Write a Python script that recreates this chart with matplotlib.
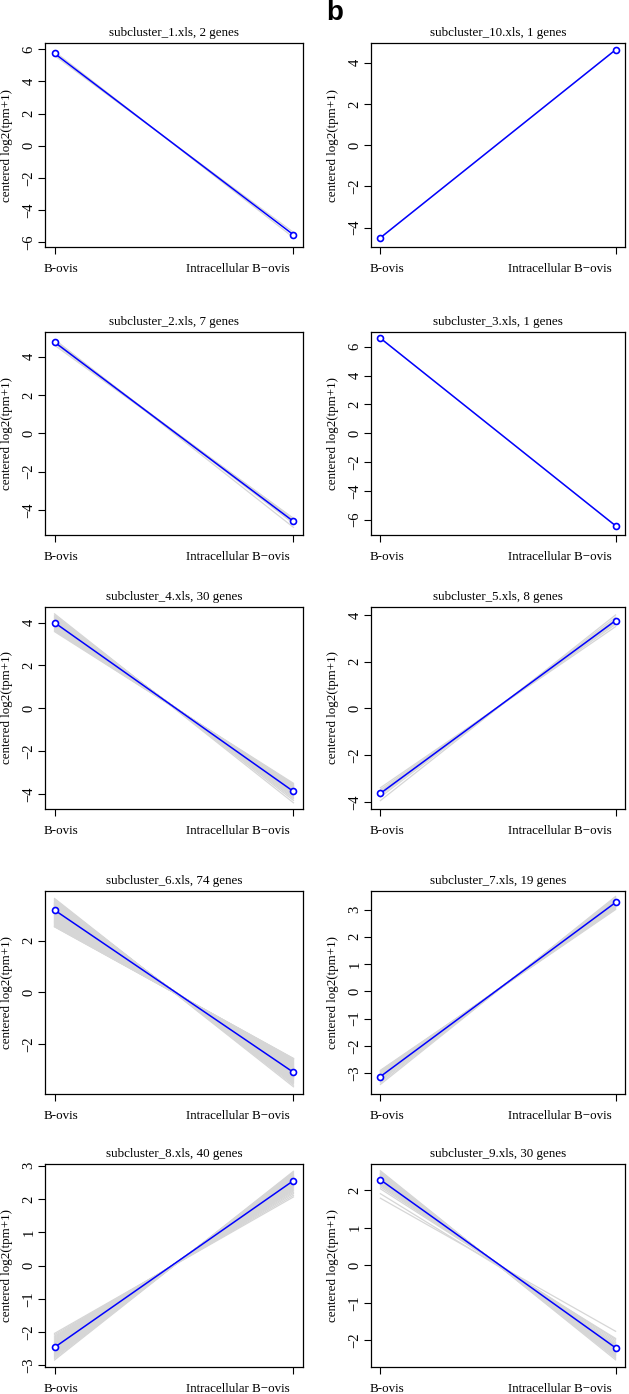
import matplotlib
matplotlib.use("Agg")
import matplotlib.pyplot as plt
from matplotlib.ticker import MultipleLocator
import matplotlib.transforms as mtransforms

plt.rcParams['font.family'] = ['Liberation Serif', 'DejaVu Serif']

conditions = ["B-ovis", "Intracellular B\u2212ovis"]

titles = ["subcluster_1.xls, 2 genes", "subcluster_10.xls, 1 genes",
          "subcluster_2.xls, 7 genes", "subcluster_3.xls, 1 genes",
          "subcluster_4.xls, 30 genes", "subcluster_5.xls, 8 genes",
          "subcluster_6.xls, 74 genes", "subcluster_7.xls, 19 genes",
          "subcluster_8.xls, 40 genes", "subcluster_9.xls, 30 genes"]

# centroid (blue) values at the two conditions
centroid_start = [5.73, -4.49, 4.76, 6.6, 4.0, -3.64, 3.19, -3.13, -2.46, 2.27]
centroid_end = [-5.53, 4.63, -4.59, -6.42, -3.88, 3.76, -3.1, 3.26, 2.55, -2.2]

# per gene values (grey lines)
genes_start = [
    [5.85, 5.6],
    [-4.49],
    [4.9, 4.85, 4.8, 4.75, 4.72, 4.7, 4.6],
    [6.6],
    [4.41, 4.35, 4.3, 4.26, 4.22, 4.18, 4.15, 4.12, 4.1, 4.08, 4.05, 4.03, 4.01, 3.99, 3.97,
     3.95, 3.93, 3.91, 3.89, 3.87, 3.85, 3.83, 3.81, 3.79, 3.76, 3.73, 3.7, 3.66, 3.62, 3.58],
    [-3.95, -3.8, -3.72, -3.66, -3.6, -3.55, -3.48, -3.4],
    [3.64, 3.6, 3.57, 3.55, 3.52, 3.5, 3.48, 3.46, 3.45, 3.43,
     3.42, 3.4, 3.39, 3.38, 3.36, 3.35, 3.34, 3.33, 3.32, 3.31,
     3.3, 3.29, 3.28, 3.27, 3.26, 3.25, 3.24, 3.23, 3.22, 3.21,
     3.2, 3.2, 3.19, 3.18, 3.17, 3.16, 3.15, 3.14, 3.13, 3.12,
     3.11, 3.1, 3.09, 3.08, 3.07, 3.06, 3.05, 3.04, 3.02, 3.0,
     2.98, 2.96, 2.94, 2.92, 2.9, 2.88, 2.86, 2.84, 2.82, 2.8,
     2.78, 2.76, 2.74, 2.72, 2.7, 2.68, 2.66, 2.64, 2.62, 2.6,
     2.58, 2.56, 2.55, 2.54],
    [-3.42, -3.36, -3.3, -3.26, -3.23, -3.2, -3.17, -3.15, -3.13, -3.11,
     -3.09, -3.07, -3.05, -3.03, -3.01, -2.98, -2.95, -2.92, -2.9],
    [-2.84, -2.8, -2.76, -2.73, -2.7, -2.68, -2.66, -2.64, -2.62, -2.6,
     -2.58, -2.57, -2.56, -2.55, -2.54, -2.53, -2.52, -2.51, -2.5, -2.49,
     -2.48, -2.47, -2.46, -2.45, -2.44, -2.42, -2.4, -2.38, -2.36, -2.34,
     -2.32, -2.3, -2.27, -2.24, -2.21, -2.18, -2.15, -2.12, -2.08, -2.04],
    [2.51, 2.48, 2.45, 2.43, 2.41, 2.4, 2.38, 2.37, 2.36, 2.35, 2.34, 2.33, 2.32, 2.31, 2.3,
     2.29, 2.28, 2.27, 2.26, 2.25, 2.24, 2.22, 2.2, 2.18, 2.15, 2.12, 2.08, 2.03, 1.9, 1.78],
]
genes_end = [
    [-5.7, -5.38],
    [4.63],
    [-4.9, -4.7, -4.6, -4.55, -4.5, -4.45, -4.43],
    [-6.42],
    [-4.41, -4.3, -4.22, -4.16, -4.1, -4.06, -4.02, -3.99, -3.96, -3.94, -3.92, -3.9, -3.88, -3.86, -3.84,
     -3.82, -3.8, -3.78, -3.76, -3.74, -3.72, -3.7, -3.68, -3.66, -3.64, -3.62, -3.6, -3.57, -3.54, -3.5],
    [4.0, 3.9, 3.82, 3.77, 3.72, 3.66, 3.6, 3.5],
    [-3.66, -3.6, -3.55, -3.51, -3.48, -3.45, -3.42, -3.4, -3.38, -3.36,
     -3.34, -3.32, -3.31, -3.3, -3.29, -3.28, -3.27, -3.26, -3.25, -3.24,
     -3.23, -3.22, -3.21, -3.2, -3.19, -3.18, -3.17, -3.16, -3.15, -3.14,
     -3.13, -3.12, -3.11, -3.1, -3.09, -3.08, -3.07, -3.06, -3.05, -3.04,
     -3.03, -3.02, -3.01, -3.0, -2.99, -2.98, -2.97, -2.96, -2.95, -2.94,
     -2.93, -2.92, -2.91, -2.9, -2.89, -2.88, -2.86, -2.84, -2.82, -2.8,
     -2.78, -2.76, -2.74, -2.72, -2.7, -2.68, -2.66, -2.64, -2.62, -2.6,
     -2.59, -2.58, -2.57, -2.56],
    [3.48, 3.44, 3.4, 3.37, 3.34, 3.32, 3.3, 3.28, 3.26, 3.24,
     3.22, 3.2, 3.18, 3.16, 3.13, 3.1, 3.07, 3.03, 3.0],
    [2.83, 2.8, 2.77, 2.74, 2.72, 2.7, 2.68, 2.67, 2.66, 2.65,
     2.64, 2.63, 2.62, 2.61, 2.6, 2.59, 2.58, 2.57, 2.56, 2.55,
     2.54, 2.53, 2.52, 2.51, 2.5, 2.48, 2.46, 2.44, 2.42, 2.4,
     2.38, 2.36, 2.33, 2.3, 2.27, 2.24, 2.2, 2.16, 2.11, 2.06],
    [-2.52, -2.48, -2.45, -2.42, -2.4, -2.38, -2.36, -2.34, -2.32, -2.3, -2.29, -2.28, -2.27, -2.26, -2.25,
     -2.24, -2.23, -2.22, -2.21, -2.2, -2.18, -2.16, -2.14, -2.12, -2.1, -2.06, -2.02, -1.98, -1.95, -1.76],
]

ylims = [(-6.29, 6.38), (-4.94, 4.96), (-5.30, 5.29), (-7.06, 7.03), (-4.70, 4.73),
         (-4.31, 4.34), (-3.94, 3.93), (-3.77, 3.68), (-3.05, 3.05), (-2.71, 2.69)]
ystep = [2, 2, 2, 2, 2, 2, 2, 1, 1, 1]

W, H = 629, 1394
fig = plt.figure(figsize=(W / 100, H / 100), dpi=100)

col_x = [(45, 303), (371, 625)]
row_y = [(43, 247), (332, 535), (607, 809), (891, 1094), (1164, 1367)]

fs = 9.4
for i in range(10):
    r, c = divmod(i, 2)
    x0, x1 = col_x[c]
    y0, y1 = row_y[r]
    ax = fig.add_axes([x0 / W, 1 - y1 / H, (x1 - x0) / W, (y1 - y0) / H])

    for s, e in zip(genes_start[i], genes_end[i]):
        ax.plot([1, 2], [s, e], color='#d6d6d6', lw=0.9, zorder=1)
    ax.plot([1, 2], [centroid_start[i], centroid_end[i]], color='#0000ff', lw=1.1,
            marker='o', markersize=4.3, markerfacecolor='white', markeredgecolor='#0000ff',
            markeredgewidth=1.2, zorder=3)

    ax.set_xlim(0.96, 2.04)
    ax.set_ylim(*ylims[i])
    ax.yaxis.set_major_locator(MultipleLocator(ystep[i]))
    ax.set_xticks([1, 2])
    ax.set_xticklabels([])
    ax.tick_params(axis='both', direction='out', length=5, width=0.8, labelsize=10.5)
    ax.tick_params(axis='y', labelrotation=90, pad=2)
    for lab in ax.get_yticklabels():
        lab.set_va('center')
    for sp in ax.spines.values():
        sp.set_linewidth(0.9)

    ax.set_title(titles[i], fontsize=fs, pad=5)
    ax.text(-38 / (x1 - x0), 0.5, "centered log2(tpm+1)", transform=ax.transAxes,
            rotation=90, ha='center', va='center', fontsize=fs)

    trans = mtransforms.blended_transform_factory(ax.transData, ax.transAxes)
    yl = -22 / (y1 - y0)
    ax.text(0.955, yl, conditions[0], transform=trans, ha='left', va='center', fontsize=fs)
    ax.text(1.985, yl, conditions[1], transform=trans, ha='right', va='center', fontsize=fs)

fig.text(335 / W, 1.0, "b", family='Liberation Sans', fontweight='bold', fontsize=20,
         ha='center', va='top')

fig.savefig("out.png", dpi=100)
